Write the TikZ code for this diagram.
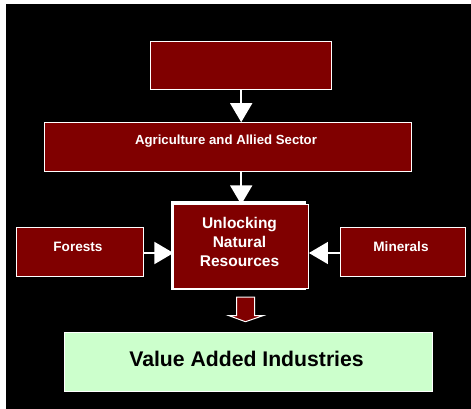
\documentclass[tikz,border=0pt]{standalone}
\usepackage{fontspec}
\setmainfont{Liberation Sans}
\usetikzlibrary{arrows.meta}
\definecolor{boxred}{HTML}{800000}
\definecolor{boxgreen}{HTML}{CCFFCC}
\tikzset{
  redbox/.style={draw=white, line width=1pt, fill=boxred, inner sep=0pt},
  greenbox/.style={draw=white, line width=1pt, fill=boxgreen, inner sep=0pt},
  whitetxt/.style={text=white, inner sep=0pt, font=\bfseries, align=center},
  flowarrow/.style={draw=white, line width=1.5pt, -{Triangle[width=22pt,length=19pt]}, fill=white}
}
\begin{document}
\begin{tikzpicture}[x=1pt,y=-1pt]
\useasboundingbox (0,0) rectangle (471,409);
\fill[white] (0,0) rectangle (471,409);
\fill[black] (6,4) rectangle (471,409);
% boxes
\node[redbox, minimum width=181pt, minimum height=48.3pt] (top) at (241.2,65.2) {};
\node[redbox, minimum width=367pt, minimum height=49pt] (agri) at (228.2,147.2) {};
\node[whitetxt, font=\fontsize{13.2}{16}\selectfont\bfseries] (agritxt) at (226,141) {Agriculture and Allied Sector};
\fill[white] (171,201) rectangle (306,290);
\node[redbox, minimum width=134.5pt, minimum height=83.5pt] (unlock) at (241.2,246.7) {};
\node[whitetxt, font=\fontsize{15.5}{19}\selectfont\bfseries] (unlocktxt) at (239.5,242) {Unlocking\\Natural\\Resources};
\node[redbox, minimum width=126.6pt, minimum height=49.4pt] (forests) at (80,252) {};
\node[whitetxt, font=\fontsize{13.6}{16}\selectfont\bfseries] (foreststxt) at (78,247) {Forests};
\node[redbox, minimum width=125pt, minimum height=49.4pt] (minerals) at (403.2,252) {};
\node[whitetxt, font=\fontsize{13.6}{16}\selectfont\bfseries] (mineralstxt) at (401,247) {Minerals};
\node[greenbox, minimum width=368pt, minimum height=59pt] (value) at (248.3,362.2) {};
\node[inner sep=0pt, font=\fontsize{21.2}{25}\selectfont\bfseries, text=black] (valuetxt) at (246.5,359) {Value Added Industries};
% connectors
\draw[flowarrow] (top.south) -- (top.south |- agri.north);
\draw[flowarrow] (unlock.north |- agri.south) -- (unlock.north);
\draw[flowarrow] ([yshift=-1pt]forests.east) -- ([yshift=-1pt]forests.east -| unlock.west);
\draw[flowarrow] ([yshift=-1pt]minerals.west) -- ([yshift=-1pt,xshift=0pt]minerals.west -| unlock.east);
% block arrow
\coordinate (ba) at (246,297);
\filldraw[fill=boxred, draw=white, line width=1pt]
  (236.7,297) -- (254.7,297) -- (254.7,315.5) -- (263.5,315.5) -- (245.5,321.7)
  -- (228.5,315.5) -- (236.7,315.5) -- cycle;
\end{tikzpicture}
\end{document}
